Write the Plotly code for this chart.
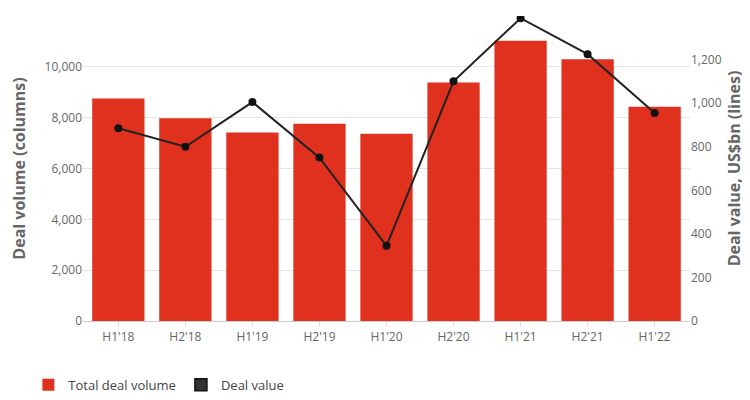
import plotly.graph_objs as go

periods = ["H1'18", "H2'18", "H1'19", "H2'19", "H1'20", "H2'20", "H1'21", "H2'21", "H1'22"]
deal_volume = [8750, 7980, 7420, 7760, 7370, 9380, 11030, 10300, 8430]
deal_value = [885, 800, 1005, 750, 345, 1100, 1390, 1225, 955]

fig = go.Figure()
fig.add_trace(go.Bar(x=periods, y=deal_volume, name='Total deal volume',
                     marker=dict(color='#e0311f', line=dict(width=0)), width=0.78))
fig.add_trace(go.Scatter(x=periods, y=deal_value, name='Deal value', yaxis='y2',
                         mode='lines+markers', line=dict(color='#222', width=2),
                         marker=dict(color='#111', size=8), showlegend=False))
# square legend key for the line series, like the original
fig.add_trace(go.Bar(x=[None], y=[None], name='Deal value',
                     marker=dict(color='#333', line=dict(color='#111', width=1.5))))

fig.update_layout(
    width=750, height=400, plot_bgcolor='white', paper_bgcolor='white',
    margin=dict(l=75, r=68, t=8, b=75),
    font=dict(family='Open Sans, Arial', color='#666', size=12),
    bargap=0.22, barmode='overlay',
    xaxis=dict(showgrid=False, linecolor='#ccc', ticks='outside', tickcolor='#ddd'),
    yaxis=dict(range=[0, 12001], dtick=2000, tickformat=',', gridcolor='#e5e5e5',
               automargin=False,
               title=dict(text='Deal volume (columns)', font=dict(size=16, color='#666'))),
    yaxis2=dict(range=[0, 1400.1], dtick=200, tickformat=',', overlaying='y', side='right',
                showgrid=False, automargin=False,
                title=dict(text='Deal value, US$bn (lines)', font=dict(size=16, color='#666'),
                           standoff=8)),
    legend=dict(orientation='h', x=-0.09, y=-0.16, xanchor='left', yanchor='top',
                font=dict(size=13, color='#444')),
)
fig.update_yaxes(title_font_weight='bold')

fig.write_html("out.html")
